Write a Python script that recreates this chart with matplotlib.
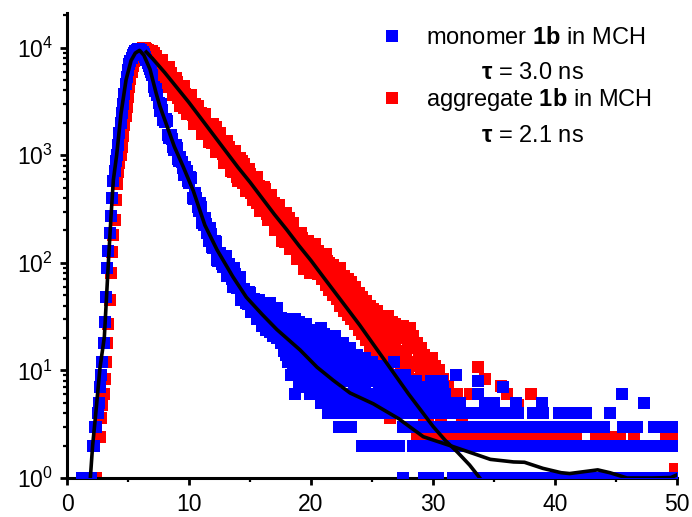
import numpy as np
import matplotlib
matplotlib.use("Agg")
import matplotlib.pyplot as plt
from matplotlib.lines import Line2D
from matplotlib.ticker import LogLocator, MultipleLocator, NullFormatter

plt.rcParams['font.family'] = ['Liberation Sans', 'DejaVu Sans']
plt.rcParams['mathtext.fontset'] = 'custom'
plt.rcParams['mathtext.rm'] = 'Liberation Sans'
plt.rcParams['mathtext.it'] = 'Liberation Sans:italic'
plt.rcParams['mathtext.bf'] = 'Liberation Sans:bold'

# ---------------- monomer (blue) data ----------------
mono_rise_t = [1.2, 1.4, 1.6, 1.8, 2.0, 2.1, 2.2, 2.3, 2.4, 2.5, 2.6, 2.7, 2.8, 2.9, 3.0,
               3.1, 3.2, 3.3, 3.4, 3.5, 3.6, 3.7, 3.8, 3.9, 4.0, 4.1, 4.2, 4.3, 4.4, 4.5,
               4.6, 4.7, 4.8, 4.9, 5.0, 5.1, 5.2, 5.3, 5.4, 5.5, 5.6, 5.7, 5.8, 5.9, 6.0,
               6.1, 6.2, 6.3, 6.4, 6.5, 6.6, 6.7, 6.8, 6.9]
mono_rise_c = [1, 1, 1, 1, 1, 2, 2, 3, 3, 4, 5, 7, 9, 12, 18,
               28, 48, 90, 130, 190, 270, 400, 580, 720, 880, 1000, 1250, 1600, 2000, 2450,
               3000, 3700, 4600, 5300, 6200, 7000, 7500, 8100, 8600, 9000, 9300, 9500, 9650, 9700, 9600,
               9450, 9150, 8700, 8200, 7700, 7200, 6700, 6300, 5900]

mono_decay_t = [7.0, 7.2, 7.4, 7.6, 7.8, 8.0, 8.2, 8.4, 8.6, 8.8, 9.0, 9.2, 9.4, 9.6, 9.8,
                10.0, 10.2, 10.4, 10.6, 10.8, 11.0, 11.2, 11.4, 11.6, 11.8, 12.0, 12.2, 12.4, 12.6, 12.8,
                13.0, 13.2, 13.4, 13.6, 13.8, 14.0, 14.2, 14.4, 14.6, 14.8, 15.0, 15.2, 15.4, 15.6, 15.8]
mono_decay_c = [5620, 3980, 3630, 2570, 2630, 2040, 2090, 1450, 1410, 1120, 1170, 890, 870, 660, 710,
                550, 610, 389, 403, 305, 331, 226, 229, 160, 184, 138, 157, 105, 116, 92,
                115, 76, 85, 59, 79, 58, 74, 45, 52, 41, 52, 36, 41, 30, 40]
mono_decay2_t = [7.1, 7.3, 7.5, 7.7, 7.9, 8.1, 8.3, 8.5, 8.7, 8.9, 9.1, 9.3, 9.5, 9.7, 9.9,
                 10.1, 10.3, 10.5, 10.7, 10.9, 11.1, 11.3, 11.5, 11.7, 11.9, 12.1, 12.3, 12.5, 12.7, 12.9,
                 13.1, 13.3, 13.5, 13.7, 13.9, 14.1, 14.3, 14.5, 14.7, 14.9, 15.1, 15.3, 15.5, 15.7, 15.9]
mono_decay2_c = [4270, 4170, 3050, 2990, 2140, 2190, 1530, 1550, 1200, 1240, 920, 970, 760, 785, 582,
                 631, 403, 447, 327, 359, 234, 260, 191, 211, 141, 160, 106, 124, 97, 114,
                 76, 97, 71, 90, 58, 73, 45, 57, 42, 54, 35, 46, 35, 45, 30]

mono_blob_t = [16.0, 16.3, 16.6, 16.9, 17.2, 17.5, 17.8, 18.1, 18.4, 18.7, 19.0, 19.3, 19.6, 19.9, 20.2,
               20.5, 20.8, 21.1, 21.4, 21.7, 22.0, 22.3, 22.6, 22.9, 23.2, 23.5, 23.8, 24.1, 24.4, 24.7,
               25.0, 25.3, 25.6, 25.9, 26.2, 26.5, 26.8, 27.1, 27.4, 27.7, 28.0, 28.3, 28.6, 28.9, 29.2,
               29.5, 29.8, 30.1, 30.4, 30.7, 31.0]
mono_blob_hi = [40, 36, 42, 34, 38, 31, 30, 29, 27, 30, 28, 22, 27, 23, 24,
                21, 25, 22, 20, 19, 21, 17, 18, 14, 16, 13, 14, 12, 13, 11,
                12, 10, 11, 9, 10, 9, 12, 9, 8, 9, 8, 7, 8, 7, 7,
                6, 8, 7, 6, 8, 6]
mono_blob_mid = [30, 27, 30, 25, 26, 22, 20, 18, 15, 17, 14, 13, 15, 12, 13,
                 11, 12, 10, 12, 9, 11, 8, 10, 8, 9, 7, 8, 6, 7, 6,
                 8, 6, 7, 6, 7, 6, 7, 6, 7, 6, 6, 5, 6, 5, 6,
                 5, 6, 6, 5, 5, 5]
mono_blob_lo = [26, 24, 23, 21, 20, 18, 15, 12, 9, 6, 7, 8, 7, 6, 7,
                6, 5, 6, 4, 5, 4, 3, 5, 4, 3, 4, 5, 4, 5, 4,
                5, 4, 5, 4, 5, 4, 5, 4, 5, 5, 4, 4, 5, 4, 5,
                4, 5, 4, 4, 4, 4]
mono_blob2_t = [16.15, 16.45, 16.75, 17.05, 17.35, 17.65, 17.95, 18.25, 18.55, 18.85,
                19.15, 19.45, 19.75, 20.05, 20.35, 20.65, 20.95, 21.25, 21.55, 21.85,
                22.15, 22.45, 22.75, 23.05, 23.35, 23.65, 23.95, 24.25, 24.55, 24.85,
                25.15, 25.45, 25.75, 26.05, 26.35, 26.65, 26.95, 27.25, 27.55, 27.85,
                28.15, 28.45, 28.75, 29.05, 29.35, 29.65, 29.95, 30.25, 30.55, 30.85]
mono_blob2_u = [34, 33, 35, 30, 29, 26, 24, 22, 21, 20,
                18, 19, 17, 18, 16, 17, 15, 16, 14, 15,
                13, 14, 12, 11, 12, 10, 11, 9, 10, 9,
                10, 8, 9, 8, 8, 9, 8, 7, 8, 7,
                7, 6, 7, 6, 7, 6, 7, 6, 6, 7]
mono_blob2_l = [28, 26, 24, 22, 20, 18, 14, 12, 11, 9,
                10, 9, 10, 8, 9, 8, 7, 8, 6, 7,
                6, 5, 6, 5, 6, 5, 6, 5, 6, 5,
                6, 5, 6, 5, 5, 6, 5, 5, 6, 5,
                5, 5, 5, 5, 4, 5, 5, 5, 4, 5]

mono_one_t = [27.5, 29.3, 29.8, 30.4, 31.6, 32.1, 32.6, 33.1, 33.6, 34.1, 34.6, 35.1, 35.6, 36.1,
              36.6, 37.1, 37.6, 38.1, 38.6, 39.1, 39.6, 40.1, 40.6, 41.1, 41.6, 42.1, 42.6, 43.1,
              43.6, 44.1, 44.6, 45.1, 45.6, 46.1, 46.6, 47.1, 47.6, 48.1, 48.6, 49.1, 49.6]
mono_two_t = [24.2, 24.7, 25.2, 25.7, 26.2, 26.7, 27.2, 28.4, 28.9, 29.4, 29.9, 30.4, 30.9, 31.4,
              31.9, 32.4, 32.9, 33.4, 33.9, 34.4, 34.9, 35.4, 35.9, 36.4, 36.9, 37.4, 37.9, 38.4,
              38.9, 39.4, 39.9, 40.4, 40.9, 41.4, 41.9, 42.4, 42.9, 43.4, 43.9, 44.4, 44.9, 45.4,
              45.9, 46.4, 46.9, 47.4, 47.9, 48.4, 48.9, 49.4, 49.6]
mono_three_t = [22.6, 23.3, 27.5, 28.0, 28.5, 29.0, 29.5, 30.0, 30.5, 31.0, 31.5, 32.0, 32.5, 33.0,
                33.5, 34.0, 34.5, 35.0, 35.5, 36.0, 36.5, 37.0, 37.5, 38.0, 38.5, 39.0, 39.5, 40.0,
                40.5, 41.0, 41.5, 42.0, 42.5, 43.0, 43.5, 44.0, 45.6, 46.2, 46.7, 48.1, 48.6, 49.1, 49.6]
mono_four_t = [22.0, 23.6, 25.0, 25.5, 26.0, 26.5, 27.0, 27.5, 28.0, 28.5, 29.0, 29.5, 30.0, 30.5,
               31.0, 31.5, 32.0, 32.5, 33.0, 33.5, 34.0, 34.5, 35.0, 35.5, 36.0, 36.5, 37.0,
               38.2, 39.0, 40.3, 40.8, 41.4, 42.0, 42.5, 44.5]
mono_five_t = [31.5, 32.2, 34.3, 35.0, 36.8, 38.9, 47.3]
mono_extra_t = [26.8, 30.0, 30.7, 31.9, 33.7, 33.7, 35.7, 45.5]
mono_extra_c = [12, 8, 8, 9, 8, 6, 7, 6]

# ---------------- aggregate (red) data ----------------
agg_rise_t = [1.2, 1.6, 2.0, 2.4, 2.5, 2.7, 2.8, 2.9, 3.0, 3.1, 3.2, 3.3, 3.4, 3.5, 3.6, 3.7,
              3.8, 3.9, 4.0, 4.1, 4.2, 4.3, 4.4, 4.5, 4.6, 4.7, 4.8, 4.9, 5.0, 5.1, 5.2, 5.3,
              5.4, 5.5, 5.6, 5.7, 5.8, 5.9, 6.0, 6.1, 6.2, 6.3, 6.4, 6.5, 6.6, 6.7, 6.8, 6.9]
agg_rise_c = [1, 1, 1, 1, 2.4, 2.4, 3.6, 4.8, 6.0, 8.4, 12, 18, 27, 45, 80, 125,
              180, 250, 380, 540, 700, 850, 1000, 1200, 1500, 1900, 2300, 2800, 3500, 4300, 5100, 6000,
              6800, 7500, 8200, 8700, 9100, 9400, 9600, 9800, 9900, 10000, 9900, 9700, 9500, 9200, 8900, 8600]

agg_decay_t = [7.0, 7.2, 7.4, 7.6, 7.8, 8.0, 8.2, 8.4, 8.6, 8.8, 9.0, 9.2, 9.4, 9.6, 9.8,
               10.0, 10.2, 10.4, 10.6, 10.8, 11.0, 11.2, 11.4, 11.6, 11.8, 12.0, 12.2, 12.4, 12.6, 12.8,
               13.0, 13.2, 13.4, 13.6, 13.8, 14.0, 14.2, 14.4, 14.6, 14.8, 15.0, 15.2, 15.4, 15.6, 15.8,
               16.0, 16.2, 16.4, 16.6, 16.8, 17.0, 17.2, 17.4, 17.6, 17.8, 18.0, 18.2, 18.4, 18.6, 18.8,
               19.0, 19.2, 19.4, 19.6, 19.8]
agg_decay_c = [9330, 6620, 7280, 5410, 6820, 5310, 6550, 4340, 4760, 3970,
               4790, 3400, 3730, 2770, 3500, 2720, 3360, 2220, 2440, 2040,
               2450, 1740, 1910, 1420, 1790, 1360, 1850, 1090, 1250, 1020,
               1320, 863, 995, 697, 953, 700, 946, 558, 643, 524,
               676, 443, 511, 357, 489, 359, 485, 286, 330, 269,
               363, 219, 264, 171, 259, 180, 261, 140, 173, 135,
               186, 112, 136, 88, 133]
agg_decay2_t = [7.1, 7.3, 7.5, 7.7, 7.9, 8.1, 8.3, 8.5, 8.7, 8.9, 9.1, 9.3, 9.5, 9.7, 9.9,
                10.1, 10.3, 10.5, 10.7, 10.9, 11.1, 11.3, 11.5, 11.7, 11.9, 12.1, 12.3, 12.5, 12.7, 12.9,
                13.1, 13.3, 13.5, 13.7, 13.9, 14.1, 14.3, 14.5, 14.7, 14.9, 15.1, 15.3, 15.5, 15.7, 15.9,
                16.1, 16.3, 16.5, 16.7, 16.9, 17.1, 17.3, 17.5, 17.7, 17.9, 18.1, 18.3, 18.5, 18.7, 18.9,
                19.1, 19.3, 19.5, 19.7, 19.9]
agg_decay2_c = [6690, 8445, 6275, 7220, 4890, 6035, 4587, 5788, 4301, 4726,
                3431, 4330, 3217, 3703, 2508, 3094, 2352, 2969, 2205, 2424,
                1760, 2221, 1650, 1899, 1287, 1632, 1166, 1609, 1116, 1287,
                866, 1195, 829, 1015, 625, 837, 598, 825, 572, 660,
                444, 613, 425, 521, 320, 429, 307, 423, 293, 338,
                219, 330, 214, 278, 155, 226, 152, 229, 148, 180,
                112, 169, 110, 143, 80]
agg_decay3_t = [7.15, 7.45, 7.75, 8.05, 8.35, 8.65, 8.95, 9.25, 9.55, 9.85,
                10.15, 10.45, 10.75, 11.05, 11.35, 11.65, 11.95, 12.25, 12.55, 12.85,
                13.15, 13.45, 13.75, 14.05, 14.35, 14.65, 14.95, 15.25, 15.55, 15.85,
                16.15, 16.45, 16.75, 17.05, 17.35, 17.65, 17.95, 18.25, 18.55, 18.85,
                19.15, 19.45, 19.75]
agg_decay3_c = [8977, 5370, 7740, 4320, 6555, 3597, 5272, 2895, 4390, 2410,
                3597, 1940, 2891, 1588, 2410, 1321, 1972, 1064, 1585, 855,
                1343, 712, 1099, 573, 885, 461, 750, 384, 624, 303,
                502, 248, 425, 200, 342, 161, 290, 134, 237, 108,
                191, 88, 159]

agg_blob_t = [20.0, 20.3, 20.6, 20.9, 21.2, 21.5, 21.8, 22.1, 22.4, 22.7, 23.0, 23.3, 23.6, 23.9,
              24.2, 24.5, 24.8, 25.1, 25.4, 25.7, 26.0, 26.3, 26.6, 26.9, 27.2, 27.5, 27.8, 28.1,
              28.4, 28.7, 29.0, 29.3, 29.6, 29.9, 30.2, 30.5, 30.8]
agg_blob_hi = [140, 150, 130, 115, 120, 100, 95, 85, 90, 76, 70, 66, 60, 52,
               48, 44, 40, 37, 36, 32, 30, 32, 28, 27, 25, 26, 24, 25,
               21, 18, 16, 14, 13, 13, 11, 10, 8.4]
agg_blob_mid = [120, 110, 100, 95, 88, 80, 72, 68, 60, 55, 52, 46, 42, 38,
                35, 31, 28, 26, 24, 22, 20, 19, 18, 16, 15, 14, 13, 12,
                12, 11, 10, 9, 8, 8, 7, 6, 6]
agg_blob_lo = [92, 85, 78, 70, 62, 56, 50, 46, 40, 36, 33, 30, 27, 24,
               22, 19, 17, 15, 14, 12, 11, 10, 9, 8, 7, 6, 6, 5,
               5, 4, 4, 3.6, 3.6, 2.4, 2.4, 2.4, 2.4]
agg_blob2_t = [20.15, 20.45, 20.75, 21.05, 21.35, 21.65, 21.95, 22.25, 22.55, 22.85, 23.15, 23.45,
               23.75, 24.05, 24.35, 24.65, 24.95, 25.25, 25.55, 25.85, 26.15, 26.45, 26.75, 27.05,
               27.35, 27.65, 27.95, 28.25, 28.55, 28.85, 29.15, 29.45, 29.75, 30.05, 30.35, 30.65]
agg_blob2_u = [130, 118, 112, 100, 104, 86, 82, 78, 70, 66, 58, 56,
               48, 46, 40, 38, 33, 31, 30, 27, 26, 24, 23, 22,
               20, 21, 18, 19, 16, 14, 13, 11, 11, 10, 8.4, 7.2]
agg_blob2_l = [100, 96, 86, 80, 72, 66, 58, 55, 48, 44, 40, 36,
               33, 30, 27, 24, 22, 20, 18, 16, 15, 14, 13, 12,
               11, 10, 9.6, 8.4, 8.4, 7.2, 7.2, 6.0, 6.0, 4.8, 4.8, 3.6]
agg_row_t = [28.7, 29.2, 29.7, 30.2, 30.7, 31.2, 31.7, 32.2, 32.7, 33.2, 33.7, 34.2, 34.7, 35.2,
             35.7, 36.2, 36.7, 37.2, 37.7, 38.2, 38.7, 39.2, 39.7, 40.2, 40.7, 41.2, 41.7,
             43.4, 43.9, 44.4, 44.9, 45.3, 46.5, 49.1, 49.6]
agg_row_level = 2.4
agg_extra_t = [31.2, 31.5, 32.0, 32.4, 33.0, 33.7, 34.3, 35.6, 36.1, 37.0, 38.0, 26.5, 49.8]
agg_extra_c = [7.2, 4.8, 6.0, 3.6, 6.0, 10.8, 8.4, 7.2, 6.0, 4.8, 6.0, 3.6, 1.2]

# ---------------- fit curves (black) ----------------
mono_fit_t = [1.9, 2.1, 2.4, 2.7, 3.06, 3.2, 3.39, 3.6, 3.8, 4.07, 4.43, 4.84, 5.25, 5.6, 5.95,
              6.3, 6.8, 7.3, 7.6, 8.2, 8.8, 9.5, 10.35, 11.3, 12.3, 13.6, 14.7, 16.0, 17.2, 19.1,
              20.5, 21.8, 23.2, 25.1, 27.2, 29.2, 31.4, 33.3, 34.7, 36.6, 37.5, 39.0, 40.5, 41.2,
              42.5, 43.5, 44.5, 45.9, 47.0, 48.0, 49.5, 50.0]
mono_fit_c = [0.95, 2.0, 4.47, 10.5, 20.4, 39.8, 100, 263, 589, 1000, 2455, 5012, 7586, 8913, 9441,
              8511, 6310, 3802, 2884, 1862, 1202, 794, 468, 224, 132, 74.1, 47.9, 33.1, 24.0, 15.5,
              10.7, 8.13, 6.17, 4.90, 3.55, 2.42, 2.0, 1.69, 1.49, 1.41, 1.40, 1.23, 1.12, 1.10,
              1.15, 1.19, 1.12, 1.0, 1.0, 1.0, 1.01, 1.07]
agg_fit_t = [6.5, 7.0, 8.0, 9.0, 10.0, 11.0, 12.0, 13.0, 14.0, 15.0, 16.0, 17.0, 18.0, 19.0, 20.0,
             21.0, 22.0, 23.0, 24.0, 25.0, 26.0, 27.0, 28.0, 29.0, 30.0, 31.0, 32.0, 33.0, 33.9]
agg_fit_c = [9120, 7943, 5888, 4266, 3090, 2188, 1549, 1096, 776, 562, 398, 282, 204, 145, 105,
             74.1, 52.5, 37.2, 26.3, 18.2, 12.6, 8.71, 6.03, 4.27, 3.02, 2.24, 1.74, 1.32, 0.98]

legend_labels = ['monomer $\\mathbf{1b}$ in MCH', 'aggregate $\\mathbf{1b}$ in MCH']
tau_labels = ['$\\mathbf{\\tau}$ = 3.0 ns', '$\\mathbf{\\tau}$ = 2.1 ns']
x_ticks = [0, 10, 20, 30, 40, 50]

# ---------------- assemble ----------------
mono_t = (mono_rise_t + mono_decay_t + mono_decay2_t + mono_blob_t * 3 + mono_blob2_t * 2
          + mono_one_t + mono_two_t + mono_three_t + mono_four_t + mono_five_t + mono_extra_t)
mono_c = (mono_rise_c + mono_decay_c + mono_decay2_c + mono_blob_hi + mono_blob_mid + mono_blob_lo
          + mono_blob2_u + mono_blob2_l
          + [1] * len(mono_one_t) + [2] * len(mono_two_t) + [3] * len(mono_three_t)
          + [4] * len(mono_four_t) + [5] * len(mono_five_t) + mono_extra_c)
agg_t = (agg_rise_t + agg_decay_t + agg_decay2_t + agg_decay3_t + agg_blob_t * 3 + agg_blob2_t * 2
         + agg_row_t + agg_extra_t)
agg_c = (agg_rise_c + agg_decay_c + agg_decay2_c + agg_decay3_c + agg_blob_hi + agg_blob_mid
         + agg_blob_lo + agg_blob2_u + agg_blob2_l + [agg_row_level] * len(agg_row_t) + agg_extra_c)

fig = plt.figure(figsize=(6.92, 5.17), dpi=100)
ax = fig.add_axes([67 / 692, 39 / 517, 610 / 692, 465 / 517])

ms = 8.4
ax.plot(agg_t, agg_c, ls='none', marker='s', ms=ms, mew=0, color='#ff0000', zorder=2)
ax.plot(mono_t, mono_c, ls='none', marker='s', ms=ms, mew=0, color='#0000ff', zorder=3)
ax.plot(mono_fit_t, mono_fit_c, color='black', lw=2.6, zorder=4)
ax.plot(agg_fit_t, agg_fit_c, color='black', lw=2.6, zorder=4)

ax.set_yscale('log')
ax.set_xlim(0, 50)
ax.set_ylim(1, 2.1e4)
ax.set_xticks(x_ticks)
ax.xaxis.set_minor_locator(MultipleLocator(5))
ax.yaxis.set_major_locator(LogLocator(base=10, numticks=10))
ax.yaxis.set_minor_locator(LogLocator(base=10, subs=np.arange(2, 10), numticks=20))
ax.yaxis.set_minor_formatter(NullFormatter())

for s in ['top', 'right']:
    ax.spines[s].set_visible(False)
for s in ['left', 'bottom']:
    ax.spines[s].set_linewidth(2.2)
ax.tick_params(which='major', direction='out', length=5, width=2, labelsize=16.5)
ax.tick_params(axis='x', which='major', pad=5.5)
ax.tick_params(axis='y', which='major', pad=5)
ax.tick_params(which='minor', direction='out', length=2.8, width=1.6)

handles = [Line2D([], [], ls='none', marker='s', ms=ms, mew=0, color='#0000ff'),
           Line2D([], [], ls='none', marker='s', ms=ms, mew=0, color='#ff0000')]
leg = ax.legend(handles, legend_labels, loc='upper left',
                bbox_to_anchor=(384.9 / 692, 1 - 27 / 517), bbox_transform=fig.transFigure,
                frameon=False, fontsize=17, handlelength=0.6, handletextpad=1.14,
                labelspacing=1.57, borderpad=0, borderaxespad=0)
fig.text(532 / 692, 1 - 73 / 517, tau_labels[0], ha='center', va='center', fontsize=17)
fig.text(532 / 692, 1 - 136 / 517, tau_labels[1], ha='center', va='center', fontsize=17)

fig.savefig('out.png', dpi=100)
